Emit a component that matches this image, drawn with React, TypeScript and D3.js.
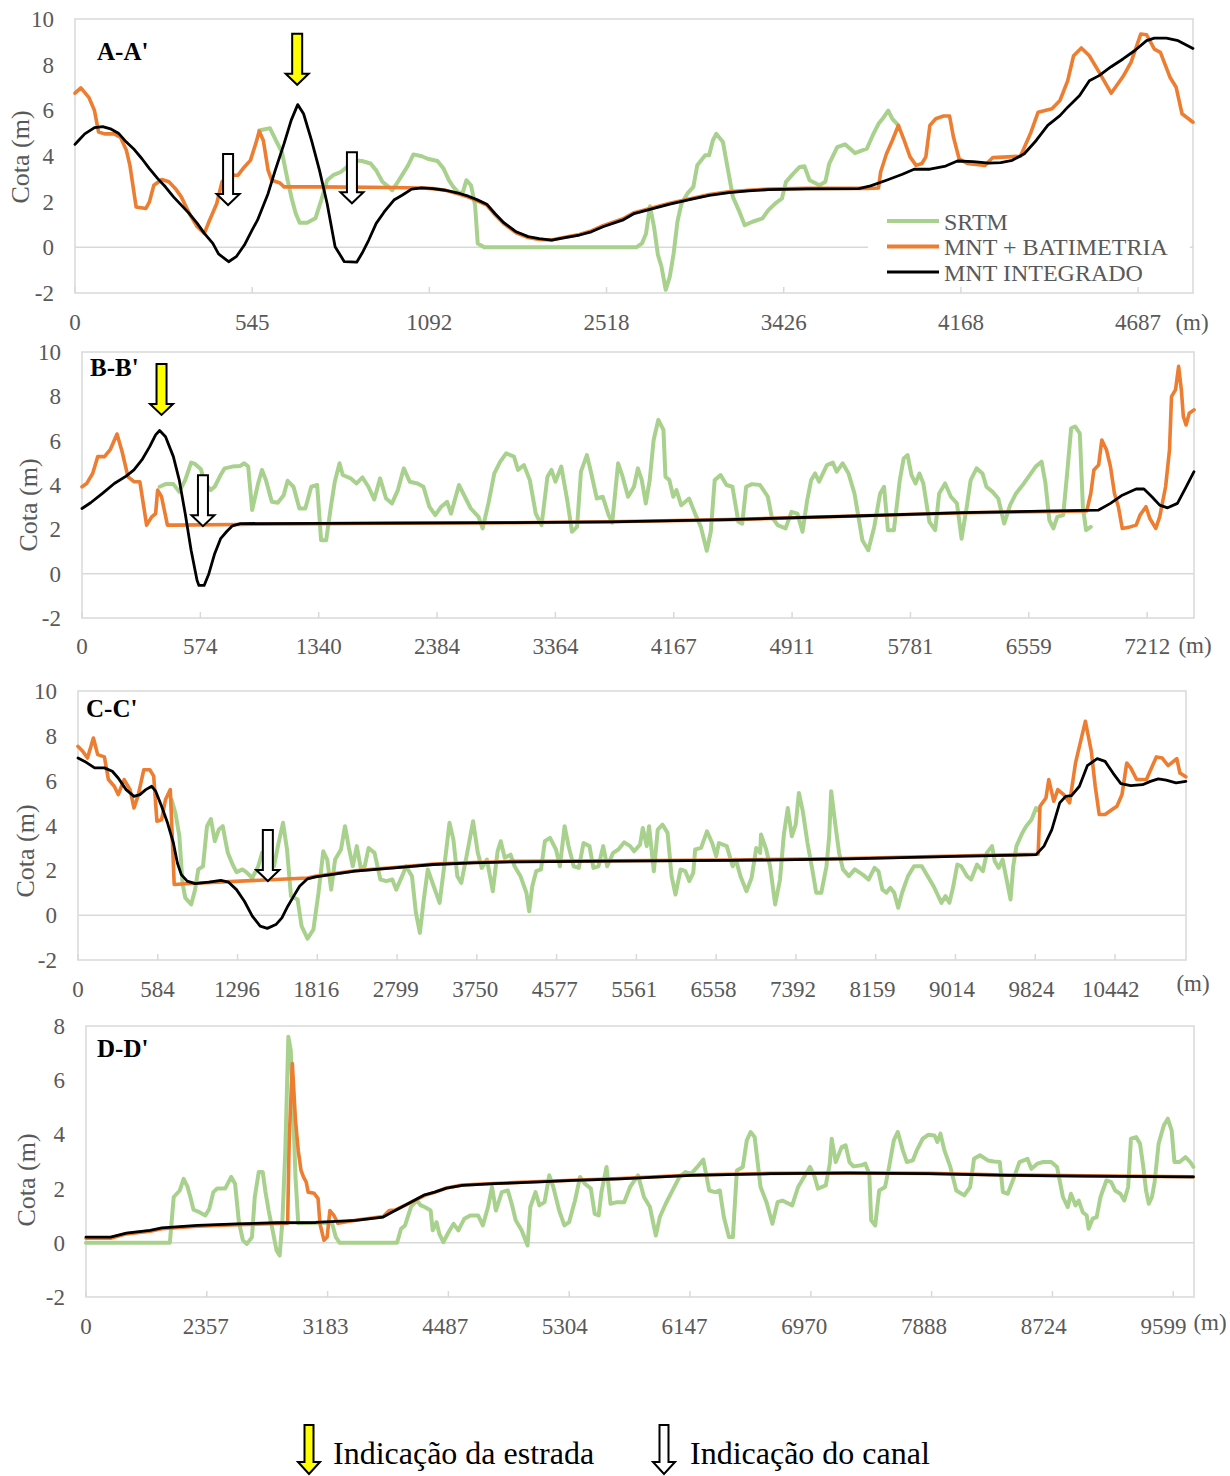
import React from 'react';
import * as d3 from 'd3';

type Pt = [number, number];

// ---------- Perfil A-A' ----------
const aaTicks = ['0', '545', '1092', '2518', '3426', '4168', '4687'];
const aaSrtm: Pt[] = [[104,5.12],[110,5.22],[113.4,4.68],[116.8,4.17],[120,2.94],[122.3,2.14],[124.6,1.48],[126.8,1.08],[131,1.08],[135.7,1.27],[139,2.07],[142.3,2.94],[145.7,3.16],[150,3.3],[153.5,3.52],[156.8,3.81],[162,3.78],[166.8,3.67],[170,3.37],[173.5,2.87],[177,2.65],[179,2.5],[181,2.72],[184.6,3.16],[188,3.59],[191,4.07],[195.7,3.99],[199,3.88],[204.6,3.78],[208,3.45],[211,2.94],[213.5,2.65],[216.8,2.36],[219,2.43],[220.9,2.94],[223.5,2.72],[225.8,1.85],[227.3,0.17],[231,0],[316.8,0],[320,0.17],[322.3,0.61],[324.5,1.8],[326.8,0.9],[329,-0.33],[331,-0.84],[333.4,-1.86],[335.7,-1.28],[337.9,-0.26],[340,1.12],[342.3,1.92],[345.7,2.36],[349,2.65],[351.2,3.59],[355.7,4.03],[357.9,4.03],[360,4.68],[361.9,4.97],[365.7,4.61],[367.9,3.67],[371.3,2.21],[374.6,1.63],[378,0.97],[382.4,1.12],[388,1.27],[391.3,1.63],[395.7,1.95],[399,2.14],[401.3,2.87],[404.6,3.16],[409,3.52],[411.7,3.55],[414.6,2.94],[420.2,2.72],[423.5,2.87],[425.7,3.67],[430.2,4.39],[434.6,4.51],[440.2,4.13],[446.9,4.32],[450.2,4.9],[453.5,5.41],[455.8,5.63],[459,5.99],[461.3,5.63],[464.7,5.34]];
const aaBatimetria: Pt[] = [[0,6.75],[3.3,6.98],[7.8,6.57],[11,5.99],[13.3,5.05],[16.7,4.97],[22,4.97],[25.6,4.83],[29,4.25],[31,3.59],[34.5,1.77],[40,1.7],[42,1.99],[44.5,2.72],[49,2.97],[53,2.87],[56.7,2.57],[60,2.21],[64.5,1.48],[69,0.9],[73,0.61],[75.6,1.12],[80,1.92],[83,2.87],[86.7,3.16],[92,3.16],[95.6,3.52],[99,3.81],[102,4.54],[104,5.09],[106.3,4.68],[109,3.37],[111,2.94],[115.7,2.82],[118,2.65],[135.6,2.65],[180,2.62],[195.7,2.6],[202,2.57],[209,2.5],[215.7,2.36],[222,2.2],[226.8,2.05],[232.4,1.85],[237,1.44],[242,1.04],[249,0.64],[255.8,0.43],[262,0.34],[269,0.32],[275.8,0.43],[284.7,0.56],[291.4,0.72],[298,0.95],[309,1.24],[315.6,1.52],[324.5,1.7],[335.7,1.93],[346.8,2.12],[358,2.31],[369,2.43],[380,2.5],[391.3,2.55],[413.5,2.58],[447,2.58],[453.5,2.6],[454.7,3.3],[458,4.1],[461.3,4.68],[464.7,5.34],[468,4.68],[471.3,3.96],[474.7,3.59],[478,3.67],[480.2,3.96],[482.5,5.34],[485.8,5.63],[490.2,5.75],[493.6,5.75],[495.8,4.83],[499,3.88],[503.6,3.67],[513.6,3.59],[518,3.93],[533.6,3.99],[539.2,4.97],[543.6,5.92],[551.4,6.07],[555.9,6.43],[560.3,7.3],[563.6,8.39],[568,8.73],[572.5,8.39],[578,7.67],[584.8,6.75],[591.5,7.48],[596,8.1],[601.5,9.34],[604.8,9.31],[609.2,8.68],[612.6,8.54],[618,7.45],[621.5,7.01],[624.8,5.85],[631,5.48]];
const aaIntegrado: Pt[] = [[0,4.51],[2,4.68],[5.5,4.97],[11,5.24],[15.6,5.29],[20,5.19],[24.5,5.0],[29,4.61],[33,4.32],[37.8,3.88],[42,3.45],[46.7,3.01],[51,2.65],[55.6,2.21],[60,1.85],[64.5,1.48],[69,1.05],[73,0.61],[77.8,0.17],[81,-0.29],[86.7,-0.63],[91,-0.41],[95.6,0.1],[100,0.76],[103,1.19],[109,2.36],[113,3.37],[118,4.54],[122,5.56],[125.7,6.25],[129,5.85],[133.5,4.68],[138,3.37],[142.3,1.92],[146.8,0.03],[152,-0.63],[159,-0.65],[162,-0.26],[165.8,0.32],[170,1.05],[174.6,1.56],[180,2.07],[184.6,2.28],[190,2.55],[195.7,2.6],[202,2.57],[209,2.5],[215.7,2.39],[222,2.24],[226.8,2.09],[232.4,1.89],[237,1.48],[242,1.08],[249,0.68],[255.8,0.47],[262,0.38],[269,0.32],[275.8,0.41],[284.7,0.54],[291.4,0.68],[298,0.9],[309,1.19],[315.6,1.48],[324.5,1.66],[335.7,1.89],[346.8,2.09],[358,2.28],[369,2.4],[380,2.47],[391.3,2.53],[413.5,2.56],[442.4,2.57],[449,2.69],[458,2.94],[467,3.2],[473.6,3.42],[482.5,3.42],[491.4,3.56],[498,3.78],[507,3.75],[515.8,3.69],[522.5,3.71],[529,3.81],[535.8,4.1],[542.5,4.68],[549,5.34],[555.9,5.77],[560.3,6.14],[567,6.65],[572.5,7.3],[578,7.52],[584.8,7.91],[591.5,8.25],[598,8.61],[604.8,9.05],[609.2,9.16],[616,9.16],[622.6,9.05],[631,8.71]];
const aaEstrada: Pt[] = [[125.4, 7.12]];
const aaCanal: Pt[] = [[86.4, 1.85], [156.3, 1.93]];

// ---------- Perfil B-B' ----------
const bbTicks = ['0', '574', '1340', '2384', '3364', '4167', '4911', '5781', '6559', '7212'];
const bbSrtm: Pt[] = [[65.6,3.92],[70.6,4.04],[77.2,4.04],[82.2,3.7],[87.2,4.22],[92.2,5.01],[95.5,4.95],[100.5,4.71],[103.8,4.07],[108.8,3.77],[112.1,3.92],[117.1,4.45],[120.5,4.75],[127.1,4.83],[133.8,4.86],[137.1,4.98],[140.4,4.83],[143.8,2.87],[148.8,4.07],[152.1,4.68],[155.4,4.22],[160.4,3.24],[165.4,3.2],[170.4,3.54],[173.7,4.19],[178.7,3.92],[183.7,2.94],[188.7,2.94],[193.7,3.92],[198.7,4.0],[202,1.51],[206.3,1.51],[210.3,3.02],[213.6,4.15],[217.6,4.98],[220.3,4.45],[227,4.3],[232,4.07],[237,4.34],[242,3.92],[246.9,3.35],[251.9,4.3],[256.9,3.39],[261.9,3.17],[266.9,3.77],[271.9,4.75],[276.9,4.15],[283.5,4.07],[288.5,3.92],[293.5,3.02],[298.5,2.64],[303.5,3.02],[308.5,3.24],[311.8,2.71],[318.5,4.0],[323.5,3.47],[328.5,2.94],[335.1,2.56],[338.5,2.04],[343.4,3.17],[348.4,4.52],[353.4,5.05],[358.4,5.43],[365,5.28],[368.4,4.68],[373.4,4.9],[378.4,4.22],[383.4,2.71],[388.3,2.19],[393.3,4.37],[396.7,4.68],[400,4.15],[405,4.83],[410,3.32],[414,1.89],[418.3,2.11],[421.6,4.6],[426.6,5.35],[430,4.6],[435,3.39],[440,3.47],[445,2.64],[448,2.3],[453,4.98],[456.4,4.45],[461.4,3.47],[466.4,3.92],[469.7,4.75],[473,4.22],[476.4,3.17],[479.7,4.22],[483,6.03],[487,6.94],[491.3,6.49],[493,4.37],[496.3,4.22],[499.6,3.47],[502.3,3.77],[506.3,3.09],[513,3.39],[518,2.71],[522.9,2.11],[527.9,1.03],[531.3,1.89],[534.6,4.22],[539.6,4.45],[544.6,4.0],[549.6,3.92],[554.6,2.34],[557.9,2.26],[561.2,3.92],[566.2,4.04],[572.9,4.0],[579.5,3.47],[582.8,2.56],[587.8,2.19],[594.5,2.04],[599.5,2.79],[604.5,2.71],[608.8,1.89],[612.8,3.32],[616.1,4.22],[619.4,4.52],[622.8,4.15],[629.4,4.9],[634.4,5.01],[637.7,4.6],[642.7,4.98],[647.7,4.52],[652.7,3.62],[659.4,1.51],[664.4,1.06],[669.4,2.11],[674.4,3.62],[677.7,3.92],[681,1.96],[686,1.96],[691,4.22],[694.3,5.2],[697.6,5.35],[700.9,4.45],[704.3,4.07],[707.6,4.52],[710.9,4.07],[716,2.34],[720.9,1.96],[724.3,3.62],[729.3,4.07],[734.2,3.47],[739.3,3.17],[743.2,1.58],[747.6,3.02],[750.9,4.22],[755.9,4.75],[760.9,4.52],[764.2,3.92],[769.2,3.7],[774.2,3.39],[779.2,2.26],[784.2,3.09],[789.2,3.62],[795.8,4.07],[800.8,4.45],[805.8,4.83],[810.8,5.05],[814.1,4.07],[817.4,2.41],[820.8,2.04],[824.1,2.56],[829.1,2.64],[832.4,4.52],[835.8,6.56],[839.1,6.64],[843.1,6.33],[845.7,3.02],[848.4,1.96],[852.4,2.11]];
const bbBatimetria: Pt[] = [[0,3.92],[4,4.07],[9,4.52],[13.3,5.28],[19,5.28],[24,5.61],[29.6,6.3],[33.9,5.5],[38.9,4.37],[43.9,4.15],[48.9,4.15],[54.6,2.19],[58.9,2.56],[62.2,2.71],[63.9,3.77],[67.2,3.47],[72.2,2.19],[77.2,2.19],[130.4,2.22],[263.6,2.28],[363.4,2.3],[446.4,2.34],[546.2,2.44],[646,2.59],[745.9,2.75],[849,2.83],[852.4,3.62],[855,4.68],[859,4.9],[861.7,6.03],[865.7,5.58],[869,4.83],[872.4,3.62],[875.7,3.02],[879,2.04],[885.6,2.11],[890.7,2.19],[894,2.64],[899,3.02],[902.3,2.49],[907.3,2.04],[910.6,2.56],[915.6,3.92],[918.9,5.58],[920.6,7.99],[924,8.3],[926.6,9.35],[928.9,8.3],[930.6,7.09],[932.9,6.71],[935.6,7.24],[939.6,7.39]];
const bbIntegrado: Pt[] = [[0,2.94],[7.3,3.2],[17.3,3.62],[27.3,4.07],[37.3,4.4],[43.9,4.68],[50.6,5.13],[57.2,5.73],[62.2,6.26],[65.6,6.46],[70.6,6.18],[77.2,5.28],[82.2,4.22],[87.2,2.71],[92.2,1.06],[97.2,-0.3],[98.8,-0.53],[103.2,-0.53],[107.2,0],[112.1,0.9],[117.1,1.58],[122.1,1.89],[127.1,2.16],[133.8,2.26],[263.6,2.28],[363.4,2.3],[446.4,2.34],[546.2,2.44],[646,2.59],[745.9,2.75],[859,2.87],[869,3.17],[879,3.54],[890.7,3.82],[897.3,3.82],[904,3.47],[910.6,3.09],[917.3,2.97],[925.6,3.17],[932.3,3.85],[939.6,4.6]];
const bbEstrada: Pt[] = [[67.2, 7.16]];
const bbCanal: Pt[] = [[102.2, 2.14]];

// ---------- Perfil C-C' ----------
const ccTicks = ['0', '584', '1296', '1816', '2799', '3750', '4577', '5561', '6558', '7392', '8159', '9014', '9824', '10442'];
const ccSrtm: Pt[] = [[117.2,5.16],[122.1,4.56],[127.1,3.52],[131,1.44],[134.5,0.77],[141.9,0.48],[146.8,1.14],[150.8,2.04],[156.7,2.18],[161.7,3.97],[166.6,4.29],[171.5,3.3],[176.5,3.82],[181.4,3.97],[187.8,2.78],[193.8,2.26],[198.7,1.92],[206.1,2.04],[211,1.92],[218.5,1.66],[225.9,2.18],[230.8,2.78],[238.3,2.63],[245.7,2.18],[250.6,3.08],[257,4.12],[262,2.93],[267,0.85],[275.3,0.7],[280.3,-0.49],[287.7,-1.05],[295.1,-0.64],[301.5,1.0],[307.5,2.85],[312.4,2.48],[317.4,1.14],[322.3,2.48],[329.7,2.93],[334.7,3.97],[339.6,3.0],[344.5,2.18],[349.5,3.08],[354.4,2.11],[359.4,2.18],[364.3,3.0],[371.7,2.78],[379.1,1.59],[386.6,1.52],[394,1.59],[398.9,1.14],[406.3,1.74],[411.3,2.18],[418.7,1.74],[423.6,0.1],[428.6,-0.79],[433.5,0.7],[438.5,2.04],[445.9,1.29],[453.3,0.55],[460.7,2.63],[465.7,4.12],[470.6,3.37],[475.5,1.74],[480.5,1.44],[487.9,2.78],[495.3,4.19],[501.2,2.78],[506.2,2.11],[512.6,2.48],[520,1.07],[526,2.85],[530,3.3],[534.9,2.56],[542.3,2.7],[547.3,2.18],[554.7,1.74],[562.1,1.0],[565.6,0.18],[569.5,1.29],[574.4,1.96],[580.4,2.04],[585.3,3.3],[591.7,3.45],[599.2,2.93],[604.1,2.18],[610,3.97],[615,3.08],[621.4,2.18],[627.8,2.11],[633.8,3.22],[641.2,3.08],[646.1,2.11],[652.5,2.18],[658.4,3.08],[663.4,2.18],[670.8,2.78],[677.4,2.93],[684.8,3.25],[692.2,3.08],[697.1,2.85],[704.6,3.15],[708,3.89],[713,3.08],[715.9,3.97],[721.9,1.96],[726.8,3.82],[732.7,4.04],[739.1,3.67],[744.1,1.74],[749,0.92],[755.4,2.04],[761.4,1.96],[766.3,1.52],[771.3,1.89],[773.7,2.93],[781.1,3.0],[788.5,3.74],[795,3.22],[800,2.63],[803.4,3.22],[813.3,3.08],[820.7,2.18],[824.6,2.48],[830.5,1.74],[838,1.07],[844.4,1.66],[850.3,3.0],[855.2,2.78],[856.2,3.6],[862.7,2.93],[867.6,2.18],[874,0.48],[880,1.59],[884.9,3.6],[889.8,4.78],[894.8,3.52],[899.7,4.04],[903.7,5.45],[908.6,4.64],[914.5,3.22],[920.5,2.04],[925.4,1.0],[931.8,1.0],[938.3,2.18],[941.7,3.52],[944.2,5.53],[949.1,4.12],[954.1,2.78],[959,2.04],[966.4,1.74],[973.8,2.04],[983.7,1.81],[991.1,1.59],[998.5,2.11],[1003.5,1.96],[1008.4,1.14],[1013.4,1.0],[1018.3,1.22],[1023.2,1.0],[1028.2,0.33],[1033.1,1.0],[1040.5,1.74],[1048,2.18],[1057.8,2.18],[1065.2,1.74],[1072.6,1.29],[1082.5,0.55],[1087.5,0.85],[1092.4,0.55],[1097.3,1.29],[1102.3,2.26],[1107.2,2.18],[1114.6,1.74],[1119.6,1.59],[1127,2.26],[1134.4,1.96],[1139.3,2.78],[1145.8,3.08],[1149.2,2.41],[1154.2,2.11],[1159.1,2.48],[1164.1,1.59],[1169,0.7],[1172.4,2.18],[1176.4,3.08],[1183.8,3.67],[1188.7,3.97],[1195.2,4.26],[1201.1,4.78],[1205,4.64]];
const ccBatimetria: Pt[] = [[0,7.53],[5.9,7.31],[11.9,7.01],[19.3,7.9],[24.7,7.16],[33.1,7.06],[38.1,6.05],[45.5,5.75],[50.4,5.38],[57.8,6.05],[65.3,5.6],[70.2,4.78],[75.1,5.3],[82.5,6.49],[90,6.49],[94.9,6.2],[98.9,4.19],[104.8,4.26],[109.7,5.16],[115.7,5.6],[120.6,1.37],[139.4,1.41],[287.7,1.66],[297.6,1.73],[347,1.98],[396.4,2.13],[445.9,2.28],[495.3,2.35],[544.7,2.4],[594.1,2.41],[667.5,2.43],[815.7,2.46],[964,2.53],[1112.2,2.65],[1203.6,2.72],[1206,4.86],[1213.4,5.23],[1217,6.05],[1223.3,5.08],[1228.3,5.6],[1235.7,5.38],[1243.1,5.01],[1250.5,6.79],[1255.4,7.53],[1262.9,8.65],[1270.3,7.31],[1275.2,5.75],[1280.2,4.49],[1287.6,4.49],[1295,4.68],[1302.4,4.86],[1308.8,5.38],[1314.7,6.79],[1319.7,6.57],[1327.1,6.05],[1339.4,6.05],[1351.8,7.06],[1359.2,7.01],[1366.6,6.67],[1377.5,6.98],[1381.4,6.34],[1388.8,6.17]];
const ccIntegrado: Pt[] = [[0,7.01],[8.4,6.86],[20.8,6.57],[33.1,6.57],[43,6.42],[50.4,6.12],[60.3,5.6],[70.2,5.3],[77.6,5.38],[85,5.6],[92.4,5.75],[97.4,5.53],[104.8,4.86],[112.2,4.12],[119.6,3.22],[124.6,2.33],[129.5,1.81],[136.9,1.52],[146.8,1.41],[164.1,1.47],[179,1.55],[188.8,1.47],[198.7,1.14],[208.6,0.62],[218.5,-0.04],[228.4,-0.49],[237.3,-0.59],[248.1,-0.42],[255.6,-0.12],[263,0.4],[270.4,0.85],[277.8,1.29],[287.7,1.62],[297.6,1.71],[347,1.96],[396.4,2.11],[445.9,2.26],[495.3,2.33],[544.7,2.38],[594.1,2.39],[667.5,2.41],[815.7,2.44],[964,2.51],[1112.2,2.63],[1201.1,2.7],[1211,3.08],[1220.8,3.82],[1230.7,5.01],[1238.1,5.3],[1245.5,5.33],[1255.4,5.75],[1265.3,6.67],[1277.7,6.98],[1287.6,6.86],[1297.5,6.34],[1307.3,5.87],[1319.7,5.78],[1334.5,5.82],[1344.4,5.97],[1354.3,6.08],[1364.1,6.02],[1376.5,5.9],[1388.8,5.97]];
const ccEstrada: Pt[] = [];
const ccCanal: Pt[] = [[238, 1.52]];

// ---------- Perfil D-D' ----------
const ddTicks = ['0', '2357', '3183', '4487', '5304', '6147', '6970', '7888', '8724', '9599'];
const ddSrtm: Pt[] = [[0,0],[69.4,0],[72.6,1.69],[77.6,1.93],[80.8,2.36],[84.1,2.06],[86.4,1.69],[89,1.22],[93.9,1.13],[98.8,1.01],[102.1,1.26],[105.4,1.87],[108.6,2.0],[115.2,2.0],[120.2,2.43],[123.4,2.18],[126.6,0.76],[129.9,0.09],[133.2,-0.04],[137.4,0.21],[139.7,1.69],[143,2.61],[146.3,2.61],[148.6,1.87],[151.2,1.19],[154.5,0.46],[157.7,-0.28],[160.3,-0.47],[162.6,0.83],[165,3.41],[167.5,7.6],[169.5,7.11],[171.5,4.89],[173.4,2.43],[175.7,0.72],[203.5,0.75],[206.8,0.21],[210,0],[257.5,0],[260.8,0.52],[264.1,0.64],[269,1.32],[273.9,1.56],[277.2,1.38],[280.4,1.32],[285.3,1.19],[287,0.46],[290.2,0.76],[292.5,0.33],[295.8,0.02],[300.1,0.39],[304.3,0.7],[308.2,0.46],[313.2,0.89],[318.1,1.01],[324.6,1.01],[328.5,0.64],[332.8,1.32],[336.1,2.06],[339.3,1.19],[344.2,1.87],[349.2,1.93],[352.4,1.44],[355.7,0.83],[360.6,0.46],[365.5,-0.1],[367.8,1.32],[372.1,1.87],[375.3,1.38],[379.6,1.5],[383.5,2.49],[386.8,2.06],[391.7,1.19],[396,0.64],[399.9,0.76],[404.8,1.56],[409,2.43],[413,2.18],[417.9,2.0],[421.1,1.07],[424.4,1.01],[426.7,1.87],[430.9,2.8],[434.2,1.44],[439.6,1.5],[445.5,1.5],[450.4,2.06],[457,2.49],[461.9,1.69],[466.8,1.32],[471.7,0.27],[475,0.95],[479.9,1.44],[484.8,1.87],[491.3,2.43],[496.2,2.61],[501.1,2.55],[506.1,2.8],[511,3.07],[515.9,1.93],[520.8,1.87],[524.7,1.93],[528,0.95],[532.2,0.21],[535.5,0.21],[538.8,2.67],[543.7,2.8],[547,3.78],[550.2,4.09],[553.5,3.9],[558.4,2.06],[563.3,1.5],[568.2,0.7],[572.5,1.5],[576.4,1.56],[584.6,1.38],[589.5,2.06],[596,2.55],[599.3,2.8],[603.2,2.43],[605.9,2.0],[612.4,2.12],[615.7,2.92],[617.3,3.84],[620.6,2.98],[625.5,3.53],[628.8,3.6],[632,2.98],[635.3,2.82],[641.9,2.86],[645.1,2.92],[648.4,2.55],[650,0.83],[653.3,0.64],[656.6,1.93],[661.5,2.06],[664.8,2.8],[668.7,3.78],[672,4.09],[676.2,3.41],[679.5,2.98],[684.4,3.04],[687.7,3.41],[692.6,3.84],[697.5,3.99],[702.4,3.96],[704.7,3.72],[707.3,4.03],[710.6,3.41],[715.5,2.8],[720.4,1.93],[727,1.75],[731.9,2.06],[735.1,3.1],[740,3.23],[746.6,3.04],[751.5,3.0],[756.4,2.98],[759,1.87],[763,1.81],[767.8,2.36],[772.7,2.98],[779.3,3.1],[782.6,2.73],[787.5,2.92],[792.4,2.98],[799,2.98],[803.8,2.8],[808.7,1.69],[812.7,1.32],[815.3,1.81],[819.2,1.38],[821.8,1.56],[825.1,1.13],[828.4,1.01],[830,0.52],[833.3,0.89],[836.6,0.95],[839.8,1.69],[844.7,2.3],[848.7,2.24],[851.9,1.93],[856.2,1.81],[859.5,1.56],[862.7,2.06],[865,3.84],[869.3,3.9],[872.5,3.66],[874.9,2.92],[877.5,1.93],[879.8,1.44],[882.4,1.69],[884.6,2.24],[887.9,3.66],[892.2,4.33],[895.5,4.58],[898.7,4.15],[901,2.98],[905.3,2.98],[910.2,3.16],[914.1,2.98],[916.7,2.8]];
const ddBatimetria: Pt[] = [[0,0.17],[20.3,0.17],[33.4,0.33],[53,0.43],[62.8,0.52],[92.3,0.61],[125,0.67],[157.7,0.71],[166.9,0.72],[168.2,3.78],[170.8,6.61],[173.4,4.52],[175.7,3.41],[178,2.67],[180,2.43],[182.3,2.24],[183.9,1.87],[188.8,1.83],[192.1,1.63],[193.7,0.7],[197,0.09],[199.6,0.21],[201.9,1.19],[205.2,1.01],[208.4,0.72],[223.2,0.83],[246,0.97],[251,1.19],[255.9,1.21],[265.7,1.42],[280.4,1.75],[288.6,1.86],[298.4,2.02],[311.5,2.13],[337.7,2.19],[370.4,2.25],[403.1,2.31],[441.8,2.37],[501.1,2.5],[566.6,2.56],[632,2.58],[697.5,2.56],[763,2.5],[828.4,2.47],[916.7,2.44]];
const ddIntegrado: Pt[] = [[0,0.21],[20.3,0.21],[33.4,0.36],[53,0.46],[62.8,0.55],[92.3,0.64],[125,0.7],[157.7,0.74],[190.4,0.75],[223.2,0.83],[246,0.95],[255.9,1.19],[265.7,1.42],[280.4,1.77],[288.6,1.87],[298.4,2.02],[311.5,2.12],[337.7,2.18],[370.4,2.24],[403.1,2.3],[441.8,2.36],[501.1,2.49],[566.6,2.55],[632,2.57],[697.5,2.55],[763,2.49],[828.4,2.46],[916.7,2.43]];
const ddEstrada: Pt[] = [];
const ddCanal: Pt[] = [];

const seriesNames = ['SRTM', 'MNT + BATIMETRIA', 'MNT INTEGRADO'];
const yTicksFull = [-2, 0, 2, 4, 6, 8, 10];
const yTicksShort = [-2, 0, 2, 4, 6, 8];
const legendTexts = ['Indicação da estrada', 'Indicação do canal'];

// ---------- styling ----------
const FONT = '"Liberation Serif", "Times New Roman", Times, serif';
const GRID = '#d9d9d9';
const AXIS_TEXT = '#595959';
const COLORS = ['#A9D18E', '#ED7D31', '#000000'];
const WIDTHS = [4, 3.6, 2.8];
const YELLOW = '#FFFF00';

interface PanelSpec {
  title: string;
  ticks: string[];
  xMax: number;
  yTicks: number[];
  box: { l: number; t: number; r: number; b: number };
  labelSpread: number; // category labels sit slightly tighter than tick marks
  series: Pt[][];
  estrada: Pt[];
  canal: Pt[];
  titleAt: [number, number];
  axisTitleAt: [number, number];
  unitAt: [number, number];
  tickBaseline: number;
  legend?: boolean;
}

const panels: PanelSpec[] = [
  {
    title: "A-A'", ticks: aaTicks, xMax: 631, yTicks: yTicksFull,
    box: { l: 75, t: 19, r: 1193, b: 293 }, labelSpread: 1,
    series: [aaSrtm, aaBatimetria, aaIntegrado], estrada: aaEstrada, canal: aaCanal,
    titleAt: [97, 60], axisTitleAt: [20, 157], unitAt: [1192, 330], tickBaseline: 330, legend: true,
  },
  {
    title: "B-B'", ticks: bbTicks, xMax: 939.6, yTicks: yTicksFull,
    box: { l: 82, t: 352, r: 1194, b: 618 }, labelSpread: 1,
    series: [bbSrtm, bbBatimetria, bbIntegrado], estrada: bbEstrada, canal: bbCanal,
    titleAt: [90, 376], axisTitleAt: [28, 505], unitAt: [1195, 653], tickBaseline: 654,
  },
  {
    title: "C-C'", ticks: ccTicks, xMax: 1389, yTicks: yTicksFull,
    box: { l: 78, t: 691, r: 1186, b: 960 }, labelSpread: 0.996,
    series: [ccSrtm, ccBatimetria, ccIntegrado], estrada: ccEstrada, canal: ccCanal,
    titleAt: [86, 717], axisTitleAt: [25, 851], unitAt: [1193, 991], tickBaseline: 997,
  },
  {
    title: "D-D'", ticks: ddTicks, xMax: 917.2, yTicks: yTicksShort,
    box: { l: 86, t: 1026, r: 1194, b: 1297 }, labelSpread: 0.991,
    series: [ddSrtm, ddBatimetria, ddIntegrado], estrada: ddEstrada, canal: ddCanal,
    titleAt: [97, 1057], axisTitleAt: [26, 1180], unitAt: [1210, 1330], tickBaseline: 1334,
  },
];

// Down-pointing block arrow with its tip at (x, y)
function arrowPath(x: number, y: number, len = 50, shaft = 10, head = 23, headLen = 11) {
  const p = d3.path();
  p.moveTo(x - shaft / 2, y - len);
  p.lineTo(x + shaft / 2, y - len);
  p.lineTo(x + shaft / 2, y - headLen);
  p.lineTo(x + head / 2, y - headLen);
  p.lineTo(x, y);
  p.lineTo(x - head / 2, y - headLen);
  p.lineTo(x - shaft / 2, y - headLen);
  p.closePath();
  return p.toString();
}

function ProfilePanel({ spec }: { spec: PanelSpec }) {
  const { box } = spec;
  const yMin = spec.yTicks[0];
  const yMax = spec.yTicks[spec.yTicks.length - 1];
  const x = d3.scaleLinear().domain([0, spec.xMax]).range([box.l, box.r]);
  const xLabel = d3.scaleLinear().domain([0, spec.xMax])
    .range([box.l, box.l + (box.r - box.l) * spec.labelSpread]);
  const y = d3.scaleLinear().domain([yMin, yMax]).range([box.b, box.t]);
  const line = d3.line<Pt>().x((d) => x(d[0])).y((d) => y(d[1]));
  const tickIdx = spec.ticks.map((_, i) => i * 100);

  return (
    <g>
      <rect x={box.l} y={box.t} width={box.r - box.l} height={box.b - box.t}
        fill="#fff" stroke={GRID} strokeWidth={1.5} />
      <line x1={box.l} x2={box.r} y1={y(0)} y2={y(0)} stroke={GRID} strokeWidth={1.5} />
      {tickIdx.map((t) => (
        <line key={t} x1={x(t)} x2={x(t)} y1={box.b} y2={box.b - 6} stroke={GRID} strokeWidth={1.5} />
      ))}
      {spec.ticks.map((lab, i) => (
        <text key={lab} x={xLabel(tickIdx[i])} y={spec.tickBaseline} textAnchor="middle"
          fontSize={23} fill={AXIS_TEXT} fontFamily={FONT}>{lab}</text>
      ))}
      <text x={spec.unitAt[0]} y={spec.unitAt[1]} textAnchor="middle" fontSize={23}
        fill={AXIS_TEXT} fontFamily={FONT}>(m)</text>
      {spec.yTicks.map((v) => (
        <text key={v} x={box.l - 21} y={y(v) + 8} textAnchor="end" fontSize={23}
          fill={AXIS_TEXT} fontFamily={FONT}>{v}</text>
      ))}
      <text transform={`translate(${spec.axisTitleAt[0]},${spec.axisTitleAt[1]}) rotate(-90)`}
        textAnchor="middle" dominantBaseline="central" fontSize={26} fill={AXIS_TEXT}
        fontFamily={FONT}>Cota (m)</text>

      {spec.series.map((s, i) => (
        <path key={i} d={line(s) ?? ''} fill="none" stroke={COLORS[i]} strokeWidth={WIDTHS[i]}
          strokeLinejoin="round" strokeLinecap="round" />
      ))}

      {spec.legend && (
        <g fontFamily={FONT} fontSize={24} fill={AXIS_TEXT}>
          <rect x={868} y={205} width={322} height={82} fill="#fff" />
          {seriesNames.map((n, i) => (
            <g key={n}>
              <line x1={887} x2={939} y1={221 + i * 25.5} y2={221 + i * 25.5}
                stroke={COLORS[i]} strokeWidth={i === 2 ? 3 : 4} />
              <text x={944} y={229.5 + i * 25.5}>{n}</text>
            </g>
          ))}
        </g>
      )}

      {spec.estrada.map((d, i) => (
        <path key={`e${i}`} d={arrowPath(x(d[0]), y(d[1]), 51)} fill={YELLOW}
          stroke="#000" strokeWidth={2} strokeLinejoin="miter" />
      ))}
      {spec.canal.map((d, i) => (
        <path key={`c${i}`} d={arrowPath(x(d[0]), y(d[1]), 51)} fill="#fff"
          stroke="#000" strokeWidth={2} strokeLinejoin="miter" />
      ))}

      <text x={spec.titleAt[0]} y={spec.titleAt[1]} fontSize={25} fontWeight="bold"
        fill="#000" fontFamily={FONT}>{spec.title}</text>
    </g>
  );
}

export default function App() {
  return (
    <svg width={1230} height={1476} viewBox="0 0 1230 1476"
      style={{ position: 'absolute', left: 0, top: 0, display: 'block', background: '#fff' }}>
      <rect width={1230} height={1476} fill="#fff" />
      {panels.map((p) => <ProfilePanel key={p.title} spec={p} />)}
      <g fontFamily={FONT} fontSize={32} fill="#000">
        <path d={arrowPath(309, 1474, 49, 9, 22, 12)} fill={YELLOW} stroke="#000" strokeWidth={2} />
        <text x={333} y={1464}>{legendTexts[0]}</text>
        <path d={arrowPath(664, 1474, 49, 9, 22, 12)} fill="#fff" stroke="#000" strokeWidth={2} />
        <text x={690} y={1464}>{legendTexts[1]}</text>
      </g>
    </svg>
  );
}
